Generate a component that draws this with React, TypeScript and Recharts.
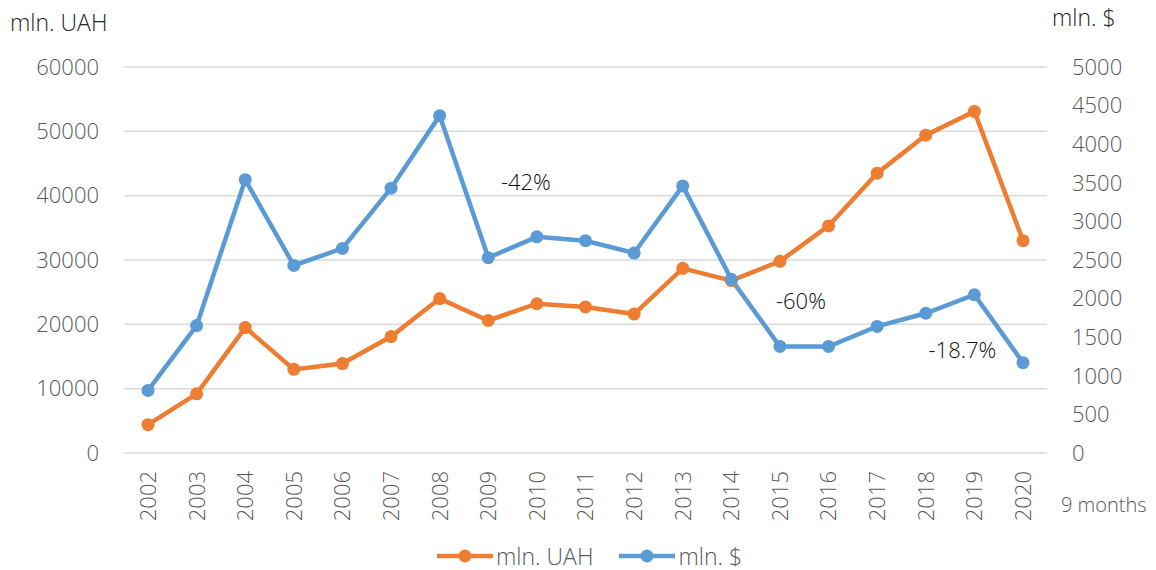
import { CartesianGrid, Legend, Line, LineChart, ReferenceDot, XAxis, YAxis } from 'recharts'

const years = ['2002', '2003', '2004', '2005', '2006', '2007', '2008', '2009', '2010', '2011',
  '2012', '2013', '2014', '2015', '2016', '2017', '2018', '2019', '2020']
const uah = [4400, 9200, 19500, 13000, 13900, 18100, 24000, 20600, 23200, 22700,
  21600, 28700, 26800, 29800, 35300, 43500, 49400, 53100, 33000]
const usd = [810, 1650, 3540, 2430, 2650, 3430, 4370, 2530, 2800, 2750,
  2590, 3460, 2250, 1380, 1380, 1640, 1810, 2050, 1170]
const leftTicks = [0, 10000, 20000, 30000, 40000, 50000, 60000]
const rightTicks = [0, 500, 1000, 1500, 2000, 2500, 3000, 3500, 4000, 4500, 5000]
const notes = [
  { year: '2010', value: 3510, text: '-42%', dx: -11 },
  { year: '2015', value: 1969, text: '-60%', dx: 21 },
  { year: '2019', value: 1334, text: '-18.7%', dx: -12 },
]
const legendOrder = ['uah', 'usd']

const data = years.map((year, i) => ({ year, uah: uah[i], usd: usd[i] }))

const ORANGE = '#ED7D31'
const BLUE = '#5B9BD5'
const FONT = '"Open Sans", sans-serif'
const TICK = '#595959'

const yearTick = (props: any) => {
  const { x, y, payload } = props
  return (
    <g>
      <text
        transform={`translate(${x},${y}) rotate(-90)`}
        dy="0.36em"
        textAnchor="end"
        fill={TICK}
        fontSize={22}
        fontFamily={FONT}
        fontWeight={300}
      >
        {payload.value}
      </text>
      {payload.value === '2020' && (
        <text x={x + 38} y={y + 41} fill={TICK} fontSize={20} fontFamily={FONT} fontWeight={300}>
          9 months
        </text>
      )}
    </g>
  )
}

const leftTitle = (props: any) => {
  const vb = props.viewBox
  return (
    <text x={vb.x + 10} y={vb.y - 36} fill="#262626" fontSize={23} fontFamily={FONT} fontWeight={300}>
      mln. UAH
    </text>
  )
}

const rightTitle = (props: any) => {
  const vb = props.viewBox
  return (
    <text x={vb.x + 5} y={vb.y - 41} fill="#262626" fontSize={23} fontFamily={FONT} fontWeight={300}>
      mln. $
    </text>
  )
}

const legendContent = (props: any) => {
  const items = [...(props.payload || [])].sort(
    (a: any, b: any) => legendOrder.indexOf(a.dataKey) - legendOrder.indexOf(b.dataKey)
  )
  return (
    <div style={{ display: 'flex', alignItems: 'center', height: 40, paddingLeft: 437, paddingTop: 12, boxSizing: 'border-box' }}>
      {items.map((it: any) => (
        <div key={it.value} style={{ display: 'flex', alignItems: 'center', marginRight: 26, height: 28 }}>
          <svg width={56} height={16} style={{ display: 'block' }}>
            <line x1={0} y1={8} x2={56} y2={8} stroke={it.color} strokeWidth={4.5} />
            <circle cx={28} cy={8} r={6.5} fill={it.color} />
          </svg>
          <span style={{ marginLeft: 3, fontSize: 23, fontFamily: FONT, fontWeight: 300, color: TICK, lineHeight: '28px', whiteSpace: 'nowrap' }}>
            {it.value}
          </span>
        </div>
      ))}
    </div>
  )
}

export default function App() {
  return (
    <div style={{ position: 'absolute', left: 0, top: 0, background: '#fff' }}>
      <LineChart width={1156} height={570} data={data} margin={{ top: 67, right: 0, bottom: 0, left: 0 }}>
        <CartesianGrid yAxisId="left" vertical={false} stroke="#d9d9d9" strokeWidth={1.5} />
        <XAxis
          dataKey="year"
          interval={0}
          padding={{ left: 24, right: 24 }}
          tickLine={false}
          axisLine={false}
          tickSize={0}
          tickMargin={18}
          height={77}
          tick={yearTick}
        />
        <YAxis
          yAxisId="left"
          domain={[0, 60000]}
          ticks={leftTicks}
          width={124}
          tickLine={false}
          axisLine={false}
          tickSize={0}
          tickMargin={25}
          tick={{ fill: TICK, fontSize: 22, fontFamily: FONT, fontWeight: 300 }}
          label={leftTitle}
        />
        <YAxis
          yAxisId="right"
          orientation="right"
          domain={[0, 5000]}
          ticks={rightTicks}
          width={109}
          tickLine={false}
          axisLine={false}
          tickSize={0}
          tickMargin={25}
          tick={{ fill: TICK, fontSize: 22, fontFamily: FONT, fontWeight: 300, textAnchor: 'start' }}
          label={rightTitle}
        />
        <Legend verticalAlign="bottom" height={40} content={legendContent} wrapperStyle={{ left: 0, width: 1156 }} />
        <Line
          yAxisId="left"
          dataKey="uah"
          name="mln. UAH"
          stroke={ORANGE}
          strokeWidth={4.5}
          dot={{ r: 6.5, fill: ORANGE, stroke: ORANGE, strokeWidth: 0 }}
          activeDot={false}
          isAnimationActive={false}
        />
        <Line
          yAxisId="right"
          dataKey="usd"
          name="mln. $"
          stroke={BLUE}
          strokeWidth={4.5}
          dot={{ r: 6.5, fill: BLUE, stroke: BLUE, strokeWidth: 0 }}
          activeDot={false}
          isAnimationActive={false}
        />
        {notes.map((n) => (
          <ReferenceDot
            key={n.text}
            yAxisId="right"
            x={n.year}
            y={n.value}
            r={0}
            fill="none"
            stroke="none"
            ifOverflow="visible"
            label={{ value: n.text, position: 'center', dx: n.dx, fill: '#111', fontSize: 22, fontFamily: FONT, fontWeight: 300 }}
          />
        ))}
      </LineChart>
    </div>
  )
}
